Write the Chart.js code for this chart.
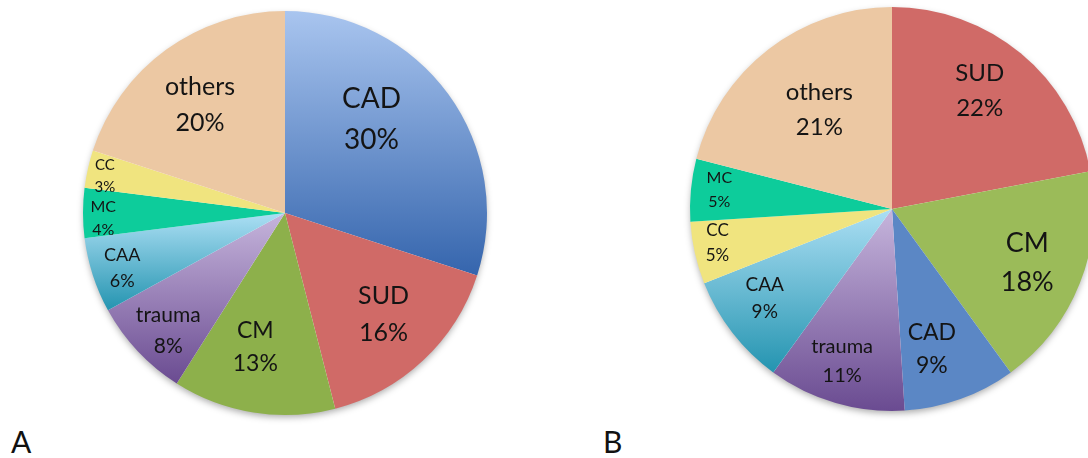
<!DOCTYPE html>
<html>
<head>
<meta charset="utf-8">
<script src="https://cdn.jsdelivr.net/npm/chart.js@4/dist/chart.umd.min.js"></script>
<style>
  html, body { margin: 0; padding: 0; background: #fff; overflow: hidden; width: 1088px; height: 458px; }
  .pie { position: absolute; }
  .panel { position: absolute; font-family: Lato, "Open Sans", sans-serif; font-size: 30px; color: #111; line-height: 1; }
</style>
</head>
<body>
<canvas id="pieA" class="pie" width="440" height="440" style="left:65px;top:-7px"></canvas>
<canvas id="pieB" class="pie" width="440" height="440" style="left:672px;top:-11px"></canvas>
<div class="panel" id="panelA" style="left:11px;top:426px"></div>
<div class="panel" id="panelB" style="left:603px;top:426px"></div>
<script>
// Share of cases per category, clockwise from 12 o'clock
const categoriesA = ['CAD', 'SUD', 'CM', 'trauma', 'CAA', 'MC', 'CC', 'others'];
const valuesA = [30, 16, 13, 8, 6, 4, 3, 20];

const categoriesB = ['SUD', 'CM', 'CAD', 'trauma', 'CAA', 'CC', 'MC', 'others'];
const valuesB = [22, 18, 9, 11, 9, 5, 5, 21];

const panelLabels = ['A', 'B'];

// Slice fills: flat colour or a top-to-bottom gradient across the slice
const fillsA = {
  CAD: ['#a9c5ef', '#3565ad'],
  SUD: '#d06a67',
  CM: '#8db04b',
  trauma: ['#c6b5dc', '#6a4b91'],
  CAA: ['#acdff4', '#2494b0'],
  MC: '#0dcc9b',
  CC: '#f0e47f',
  others: '#ecc8a3'
};
const fillsB = {
  SUD: '#d06a67',
  CM: '#9bbb59',
  CAD: '#5b87c5',
  trauma: ['#c6b5dc', '#6a4b91'],
  CAA: ['#acdff4', '#2494b0'],
  CC: '#f0e47f',
  MC: '#0dcc9b',
  others: '#ecc8a3'
};

// In-slice label placement: radius fraction, angular shift (deg), font size (px)
const labelStyleA = {
  CAD: [0.63, -11.2, 28], SUD: [0.70, -1, 25], CM: [0.68, 3.5, 23], trauma: [0.82, -2, 21],
  CAA: [0.85, -0.6, 18], MC: [0.90, -1.6, 16], CC: [0.91, -1, 15], others: [0.68, -2.2, 25]
};
const labelStyleB = {
  SUD: [0.73, -3.1, 24], CM: [0.72, 0, 27], CAD: [0.72, 3.9, 23], trauma: [0.79, 2, 20],
  CAA: [0.77, 2.7, 19], CC: [0.88, 1.6, 17], MC: [0.86, 0.9, 16], others: [0.61, 1.7, 24]
};

const FONT = 'Lato, "Open Sans", sans-serif';

// Soft drop shadow under the pie, then per-slice gradients
const pieDecor = {
  id: 'pieDecor',
  beforeDatasetsDraw(chart, args, opts) {
    const arcs = chart.getDatasetMeta(0).data;
    if (!arcs.length) return;
    const { x, y, outerRadius } = arcs[0].getProps(['x', 'y', 'outerRadius'], true);
    const ctx = chart.ctx;
    ctx.save();
    ctx.shadowColor = 'rgba(0,0,0,0.35)';
    ctx.shadowBlur = 7;
    ctx.shadowOffsetY = 3;
    ctx.fillStyle = '#ffffff';
    ctx.beginPath();
    ctx.arc(x, y, outerRadius - 1, 0, Math.PI * 2);
    ctx.fill();
    ctx.restore();

    const cats = chart.data.labels;
    arcs.forEach((arc, i) => {
      const fill = opts.fills[cats[i]];
      if (!Array.isArray(fill)) return;
      const p = arc.getProps(['x', 'y', 'startAngle', 'endAngle', 'outerRadius'], true);
      // vertical extent of the slice
      const ys = [p.y];
      const step = (p.endAngle - p.startAngle) / 40;
      for (let k = 0; k <= 40; k++) ys.push(p.y + Math.sin(p.startAngle + k * step) * p.outerRadius);
      const top = Math.min(...ys), bottom = Math.max(...ys);
      const g = ctx.createLinearGradient(0, top, 0, bottom);
      g.addColorStop(0, fill[0]);
      g.addColorStop(1, fill[1]);
      arc.options.backgroundColor = g;
    });
  },
  afterDatasetsDraw(chart, args, opts) {
    const arcs = chart.getDatasetMeta(0).data;
    const cats = chart.data.labels;
    const vals = chart.data.datasets[0].data;
    const ctx = chart.ctx;
    ctx.save();
    ctx.fillStyle = '#141414';
    ctx.textAlign = 'center';
    ctx.textBaseline = 'middle';
    arcs.forEach((arc, i) => {
      const p = arc.getProps(['x', 'y', 'startAngle', 'endAngle', 'outerRadius'], true);
      const [frac, shift, size] = opts.labels[cats[i]];
      const a = (p.startAngle + p.endAngle) / 2 + shift * Math.PI / 180;
      const cx = p.x + Math.cos(a) * p.outerRadius * frac;
      const cy = p.y + Math.sin(a) * p.outerRadius * frac;
      const gap = size * 1.45;
      ctx.font = size + 'px ' + FONT;
      ctx.fillText(cats[i], cx, cy - gap / 2);
      ctx.fillText(vals[i] + '%', cx, cy + gap / 2);
    });
    ctx.restore();
  }
};

function makePie(id, cats, vals, fills, labels) {
  return new Chart(document.getElementById(id), {
    type: 'pie',
    data: {
      labels: cats,
      datasets: [{
        data: vals,
        backgroundColor: cats.map(c => Array.isArray(fills[c]) ? fills[c][0] : fills[c]),
        borderWidth: 0
      }]
    },
    options: {
      responsive: false,
      animation: false,
      devicePixelRatio: 1,
      layout: { padding: 18 },
      events: [],
      plugins: {
        legend: { display: false },
        tooltip: { enabled: false },
        pieDecor: { fills, labels }
      }
    },
    plugins: [pieDecor]
  });
}

makePie('pieA', categoriesA, valuesA, fillsA, labelStyleA);
makePie('pieB', categoriesB, valuesB, fillsB, labelStyleB);
document.getElementById('panelA').textContent = panelLabels[0];
document.getElementById('panelB').textContent = panelLabels[1];
</script>
</body>
</html>
